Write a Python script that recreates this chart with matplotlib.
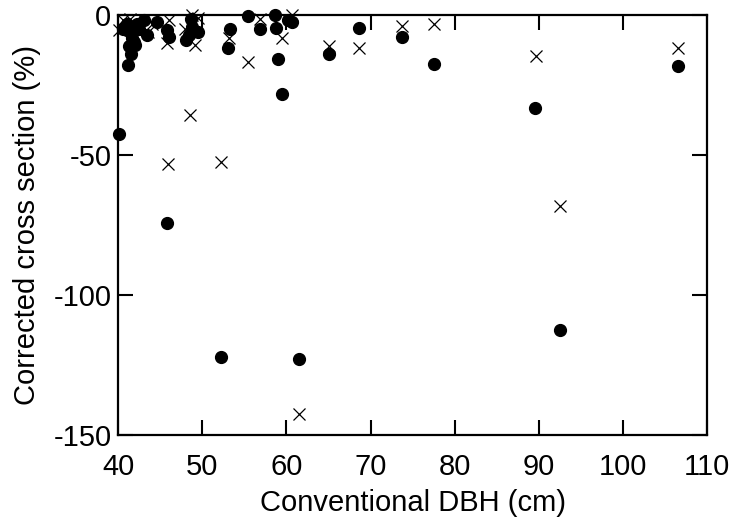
import matplotlib
matplotlib.use("Agg")
import matplotlib.pyplot as plt

plt.rcParams['font.family'] = ['Liberation Sans', 'DejaVu Sans']
plt.rcParams['axes.unicode_minus'] = False

# filled circles
dbh_dot = [40.1, 41.2, 41.5, 40.6, 41.4, 41.6, 41.8, 42.2, 43.0, 43.4,
           44.6, 45.8, 46.0, 45.8, 48.6, 48.7, 48.1, 49.5, 48.4, 52.2,
           53.3, 53.0, 55.4, 56.9, 58.6, 58.8, 59.0, 59.5, 60.2, 60.7,
           61.5, 65.0, 68.6, 73.8, 77.6, 89.6, 92.5, 106.6, 42.5, 41.0,
           42.0, 41.3]
cs_dot = [-42.6, -17.9, -14.0, -4.8, -6.0, -8.3, -9.5, -3.0, -1.8, -7.1,
          -2.4, -5.4, -7.7, -74.4, -1.2, -4.2, -8.9, -6.0, -7.0, -122.0,
          -4.8, -11.9, -0.2, -4.8, 0.0, -4.5, -15.5, -28.3, -1.8, -2.4,
          -123.0, -13.9, -4.5, -7.7, -17.5, -33.0, -112.5, -18.1, -5.0, -3.0,
          -10.5, -11.0]

# crosses
dbh_x = [40.6, 41.4, 40.1, 42.5, 46.0, 45.8, 48.7, 49.5, 47.9, 49.1,
         48.5, 45.9, 52.2, 53.2, 55.4, 56.9, 59.5, 60.6, 61.5, 65.0,
         68.6, 73.8, 77.6, 89.7, 92.5, 106.6, 43.5, 44.0]
cs_x = [-1.8, -1.5, -5.4, -4.0, -1.8, -10.1, 0.0, -1.0, -4.8, -10.7,
        -35.7, -53.2, -52.4, -8.3, -16.6, -1.2, -8.3, 0.0, -142.5, -11.0,
        -11.7, -3.8, -3.0, -14.5, -68.2, -11.9, -6.0, -3.0]

xticks = [40, 50, 60, 70, 80, 90, 100, 110]
yticks = [0, -50, -100, -150]

fig = plt.figure(figsize=(7.4, 5.24), dpi=100)
ax = fig.add_axes([0.16, 0.17, 0.795, 0.801])

ax.plot(dbh_x, cs_x, linestyle='none', marker='x', color='black',
        markersize=8, markeredgewidth=0.9, clip_on=False)
ax.plot(dbh_dot, cs_dot, linestyle='none', marker='o', color='black',
        markersize=8.5, clip_on=False)

ax.set_xlim(40, 110)
ax.set_ylim(-150, 0)
ax.set_xticks(xticks)
ax.set_yticks(yticks)
ax.tick_params(direction='in', length=11, width=1.5, labelsize=21,
               top=True, right=True)
ax.tick_params(axis='x', pad=13)
ax.tick_params(axis='y', pad=5)
for s in ax.spines.values():
    s.set_linewidth(1.6)

ax.set_xlabel('Conventional DBH (cm)', fontsize=21, labelpad=6)
ax.set_ylabel('Corrected cross section (%)', fontsize=21, labelpad=9)

fig.savefig('out.png', dpi=100)
